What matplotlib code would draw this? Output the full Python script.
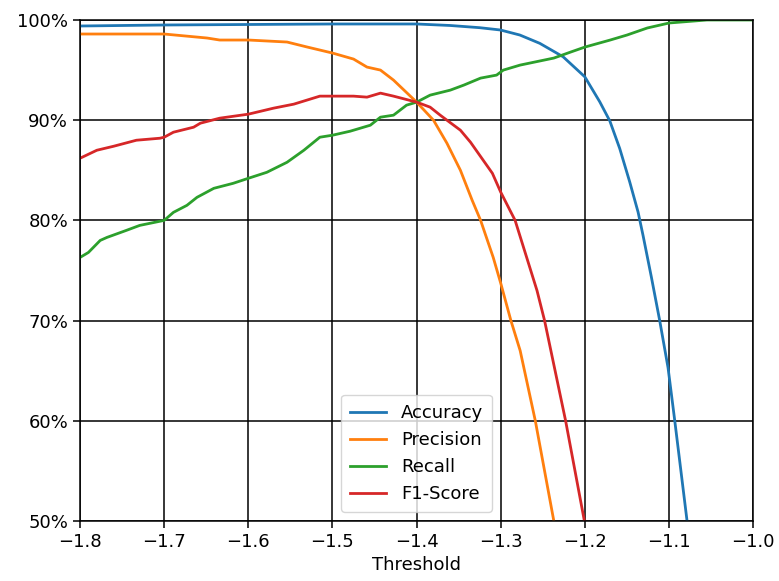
import matplotlib
matplotlib.use('Agg')
import matplotlib.pyplot as plt
from matplotlib.ticker import PercentFormatter

# values (threshold, percent)
acc_x = [-1.80, -1.70, -1.60, -1.50, -1.40, -1.36, -1.3249, -1.3004, -1.2774, -1.2537,
         -1.2260, -1.2002, -1.1824, -1.1705, -1.1587, -1.1468, -1.1369, -1.1310,
         -1.1210, -1.1112, -1.1013, -1.0933, -1.0860, -1.0787]
acc_y = [99.4, 99.5, 99.55, 99.6, 99.6, 99.45, 99.23, 99.0, 98.5, 97.67,
         96.33, 94.33, 91.83, 89.93, 87.17, 83.83, 80.83, 78.5,
         74.3, 70.0, 65.3, 60.0, 55.0, 50.0]

prec_x = [-1.80, -1.70, -1.649, -1.634, -1.60, -1.554, -1.530, -1.50, -1.475, -1.459,
          -1.443, -1.4275, -1.40, -1.38, -1.364, -1.348, -1.334, -1.324, -1.309, -1.30,
          -1.288, -1.277, -1.259, -1.237]
prec_y = [98.6, 98.6, 98.2, 98.0, 98.0, 97.8, 97.3, 96.7, 96.1, 95.3,
          95.0, 94.0, 91.8, 90.0, 87.7, 85.0, 82.0, 80.0, 76.3, 73.7,
          70.0, 67.0, 60.0, 50.0]

rec_x = [-1.80, -1.79, -1.776, -1.768, -1.745, -1.729, -1.70, -1.689, -1.673, -1.661,
         -1.641, -1.618, -1.60, -1.578, -1.554, -1.534, -1.515, -1.50, -1.479, -1.455,
         -1.443, -1.4275, -1.412, -1.40, -1.384, -1.36, -1.344, -1.324, -1.305, -1.297,
         -1.277, -1.237, -1.217, -1.20, -1.17, -1.15, -1.126, -1.10, -1.055, -1.00]
rec_y = [76.3, 76.8, 78.0, 78.3, 79.0, 79.5, 80.0, 80.8, 81.5, 82.3,
         83.2, 83.7, 84.2, 84.8, 85.8, 87.0, 88.3, 88.5, 88.9, 89.5,
         90.3, 90.5, 91.5, 91.8, 92.5, 93.0, 93.5, 94.2, 94.5, 95.0,
         95.5, 96.2, 96.8, 97.3, 98.0, 98.5, 99.2, 99.7, 100.0, 100.0]

f1_x = [-1.80, -1.78, -1.76, -1.733, -1.705, -1.70, -1.689, -1.665, -1.657, -1.634,
        -1.60, -1.57, -1.546, -1.515, -1.50, -1.475, -1.459, -1.443, -1.4275, -1.40,
        -1.384, -1.372, -1.348, -1.336, -1.31, -1.30, -1.283, -1.257, -1.248, -1.223,
        -1.2007]
f1_y = [86.2, 87.0, 87.4, 88.0, 88.2, 88.3, 88.8, 89.3, 89.7, 90.2,
        90.6, 91.2, 91.6, 92.4, 92.4, 92.4, 92.3, 92.7, 92.4, 91.8,
        91.3, 90.5, 89.0, 87.8, 84.7, 82.8, 80.0, 73.0, 70.0, 60.0,
        50.0]

fig = plt.figure(figsize=(7.79, 5.81), dpi=100)
ax = fig.add_axes([0.1027, 0.1033, 0.8643, 0.8623])

lw = 2.0
ax.plot(acc_x, acc_y, color='tab:blue', lw=lw, label='Accuracy')
ax.plot(prec_x, prec_y, color='tab:orange', lw=lw, label='Precision')
ax.plot(rec_x, rec_y, color='tab:green', lw=lw, label='Recall')
ax.plot(f1_x, f1_y, color='tab:red', lw=lw, label='F1-Score')

ax.set_xlim(-1.8, -1.0)
ax.set_ylim(50, 100)
ax.yaxis.set_major_formatter(PercentFormatter(decimals=0))
ax.grid(True, color='black', lw=1.1)
ax.tick_params(labelsize=13, width=1.1, length=5)
for s in ax.spines.values():
    s.set_linewidth(1.1)
ax.set_xlabel('Threshold', fontsize=13)
ax.legend(loc='lower center', fontsize=13, borderpad=0.5)

fig.savefig('out.png', dpi=100)
